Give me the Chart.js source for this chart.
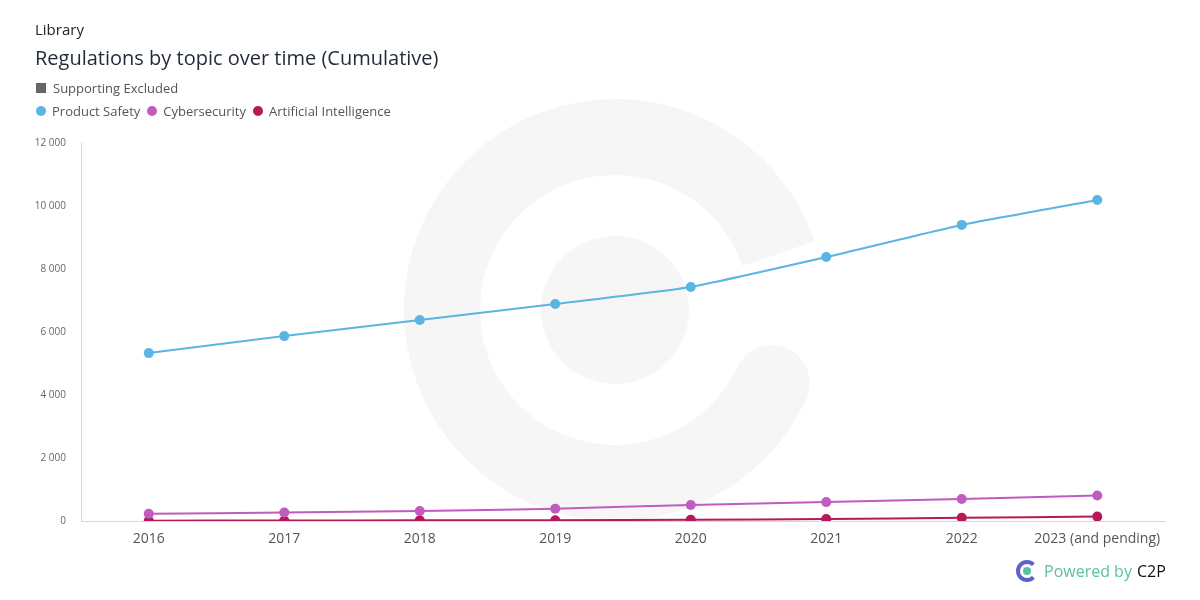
<!DOCTYPE html>
<html lang="en">
<head>
    <meta charset="UTF-8">
    <title>Regulations by topic over time</title>
    <script src="https://cdn.jsdelivr.net/npm/chart.js"></script>
    <style>
        body { margin: 0; background: #fff; font-family: "Open Sans", sans-serif; }
        .wrap { position: relative; width: 1200px; height: 600px; overflow: hidden; }
        #grafico { position: absolute; left: 0; top: 0; }
        .cabecalho { position: absolute; left: 35px; top: 19px; z-index: 2; }
        .cabecalho .lib { font-size: 15px; color: #222; line-height: 20px; }
        .cabecalho h1 { font-size: 20px; font-weight: 400; color: #1f2b37; margin: 6px 0 0 0; line-height: 26px; }
        .filtro { font-size: 13px; color: #555; margin-top: 8px; display: flex; align-items: center; }
        .filtro .quadrado { width: 10px; height: 10px; background: #666; margin-right: 7px; margin-left: 1px; }
        .legenda { display: flex; align-items: center; font-size: 13px; color: #555; margin-top: 5px; }
        .legenda span.item { display: flex; align-items: center; margin-right: 6px; }
        .legenda .bola { width: 10px; height: 10px; border-radius: 50%; margin-right: 6px; margin-left: 1px; }
        .powered { position: absolute; left: 1016px; top: 560px; display: flex; align-items: center; font-size: 16px; z-index: 2; }
        .powered .logo { width: 14px; height: 14px; border-radius: 50%; border: 4px solid #5b63c9; border-right-color: transparent; position: relative; margin-right: 6px; }
        .powered .logo::after { content: ""; position: absolute; left: 3px; top: 3px; width: 8px; height: 8px; border-radius: 50%; background: #5bbf9f; }
        .powered .txt { color: #5bc0a8; }
        .powered .c2p { color: #111; margin-left: 5px; }
    </style>
</head>
<body>
<div class="wrap">
    <div class="cabecalho">
        <div class="lib">Library</div>
        <h1>Regulations by topic over time (Cumulative)</h1>
        <div class="filtro"><span class="quadrado"></span>Supporting Excluded</div>
        <div class="legenda" id="legenda"></div>
    </div>
    <canvas id="grafico" width="1200" height="600"></canvas>
    <div class="powered"><span class="logo"></span><span class="txt">Powered by</span><span class="c2p">C2P</span></div>
</div>

<script>
    // dados
    const anos = ['2016', '2017', '2018', '2019', '2020', '2021', '2022', '2023 (and pending)'];
    const productSafety = [5330, 5870, 6380, 6890, 7430, 8380, 9400, 10190];
    const cybersecurity = [230, 270, 320, 390, 510, 600, 700, 810];
    const artificialIntelligence = [10, 15, 20, 25, 40, 60, 100, 140];
    const nomesSeries = ['Product Safety', 'Cybersecurity', 'Artificial Intelligence'];
    const coresSeries = ['#5ab4e4', '#c15bbf', '#b8185a'];
    const yMax = 12000;
    const yPasso = 2000;

    const valores = [productSafety, cybersecurity, artificialIntelligence];

    // legenda em html
    const legenda = document.getElementById('legenda');
    nomesSeries.forEach((nome, i) => {
        const item = document.createElement('span');
        item.className = 'item';
        item.innerHTML = '<span class="bola" style="background:' + coresSeries[i] + '"></span>' + nome;
        legenda.appendChild(item);
    });

    // marca d'água ao fundo
    const marcaDagua = {
        id: 'marcaDagua',
        beforeDraw(chart) {
            const ctx = chart.ctx;
            const cx = 615, cy = 310;
            ctx.save();
            ctx.strokeStyle = '#f6f6f6';
            ctx.fillStyle = '#f6f6f6';
            ctx.lineWidth = 76;
            ctx.beginPath();
            ctx.arc(cx, cy, 173, 25 * Math.PI / 180, 341 * Math.PI / 180);
            ctx.stroke();
            // ponta arredondada de baixo
            const a = 25 * Math.PI / 180;
            ctx.beginPath();
            ctx.arc(cx + 173 * Math.cos(a), cy + 173 * Math.sin(a), 38, 0, Math.PI * 2);
            ctx.fill();
            // círculo central
            ctx.beginPath();
            ctx.arc(cx, cy, 74, 0, Math.PI * 2);
            ctx.fill();
            ctx.restore();
        }
    };

    function formataNumero(v) {
        return String(v).replace(/\B(?=(\d{3})+(?!\d))/g, ' ');
    }

    const ctx = document.getElementById('grafico').getContext('2d');
    const grafico = new Chart(ctx, {
        type: 'line',
        data: {
            labels: anos,
            datasets: nomesSeries.map((nome, i) => ({
                label: nome,
                data: valores[i],
                borderColor: coresSeries[i],
                backgroundColor: coresSeries[i],
                pointBackgroundColor: coresSeries[i],
                pointBorderColor: coresSeries[i],
                pointRadius: 5,
                pointBorderWidth: 0,
                borderWidth: 2,
                tension: 0.15,
                fill: false
            }))
        },
        options: {
            responsive: false,
            animation: false,
            layout: {
                padding: { top: 143, right: 35, bottom: 0, left: 0 }
            },
            plugins: {
                legend: { display: false },
                title: { display: false },
                tooltip: { enabled: false }
            },
            scales: {
                x: {
                    offset: true,
                    grid: { display: false, drawTicks: false },
                    border: { display: true, color: '#d6d6d6', width: 1 },
                    ticks: {
                        color: '#555',
                        padding: 10,
                        maxRotation: 0,
                        font: { family: 'Open Sans', size: 14 }
                    },
                    afterFit: scale => { scale.height = 79; }
                },
                y: {
                    min: 0,
                    max: yMax,
                    grid: { display: false, drawTicks: false },
                    border: { display: true, color: '#d6d6d6', width: 1 },
                    ticks: {
                        stepSize: yPasso,
                        color: '#666',
                        padding: 15,
                        font: { family: 'Open Sans', size: 10 },
                        callback: v => formataNumero(v)
                    },
                    afterFit: scale => { scale.width = 81; }
                }
            }
        },
        plugins: [marcaDagua]
    });
</script>
</body>
</html>
